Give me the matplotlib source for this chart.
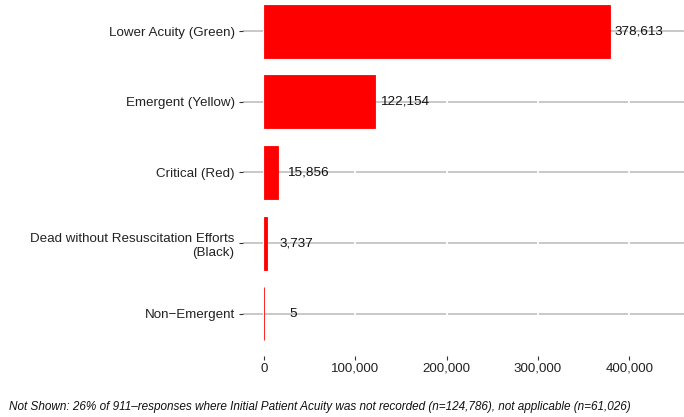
import matplotlib
matplotlib.use("Agg")
import matplotlib.pyplot as plt

# dados do grafico
categorias = ['Lower Acuity (Green)', 'Emergent (Yellow)', 'Critical (Red)',
              'Dead without Resuscitation Efforts\n(Black)', 'Non\u2212Emergent']
valores = [378613, 122154, 15856, 3737, 5]
ticks_x = [0, 100000, 200000, 300000, 400000]
rodape = ('Not Shown: 26% of 911\u2013responses where Initial Patient Acuity was not recorded '
          '(n=124,786), not applicable (n=61,026)')

plt.rcParams['font.family'] = ['Liberation Sans', 'DejaVu Sans']

fig = plt.figure(figsize=(6.84, 4.17), dpi=100)
ax = fig.add_axes([243 / 684, 61 / 417, 441 / 684, 367 / 417])

# posicoes de cima para baixo
pos = list(range(len(categorias)))[::-1]

for p in pos:
    ax.axhline(p, color='#c4c4c4', linewidth=1.3, zorder=0)
for t in ticks_x:
    ax.axvline(t, color='white', linewidth=1.3, zorder=1)

barras = ax.barh(pos, valores, height=0.75, color='#ff0000',
                 edgecolor='#ff0000', linewidth=0.6, zorder=2)

# rotulos com o valor
for p, v in zip(pos, valores):
    ax.annotate(f'{v:,}', xy=(v, p), xytext=(21, 0), textcoords='offset points',
                ha='center', va='center', fontsize=9.7, color='#111111', zorder=3)

ax.set_yticks(pos)
ax.set_yticklabels(categorias, fontsize=9.6, color='#222222', linespacing=1.3)
ax.set_xticks(ticks_x)
ax.set_xticklabels([f'{t:,}' for t in ticks_x], fontsize=9.6, color='#222222')
ax.set_xlim(-22640, 459700)
ax.set_ylim(-0.6, 4.6)

ax.tick_params(axis='both', length=3, width=0.8, color='#333333', pad=3)
ax.tick_params(axis='x', pad=2)
for s in ax.spines.values():
    s.set_visible(False)

fig.text(9 / 684, 10 / 417, rodape, fontsize=8.5, style='italic',
         color='#111111', ha='left', va='center')

fig.savefig('out.png', dpi=100)
